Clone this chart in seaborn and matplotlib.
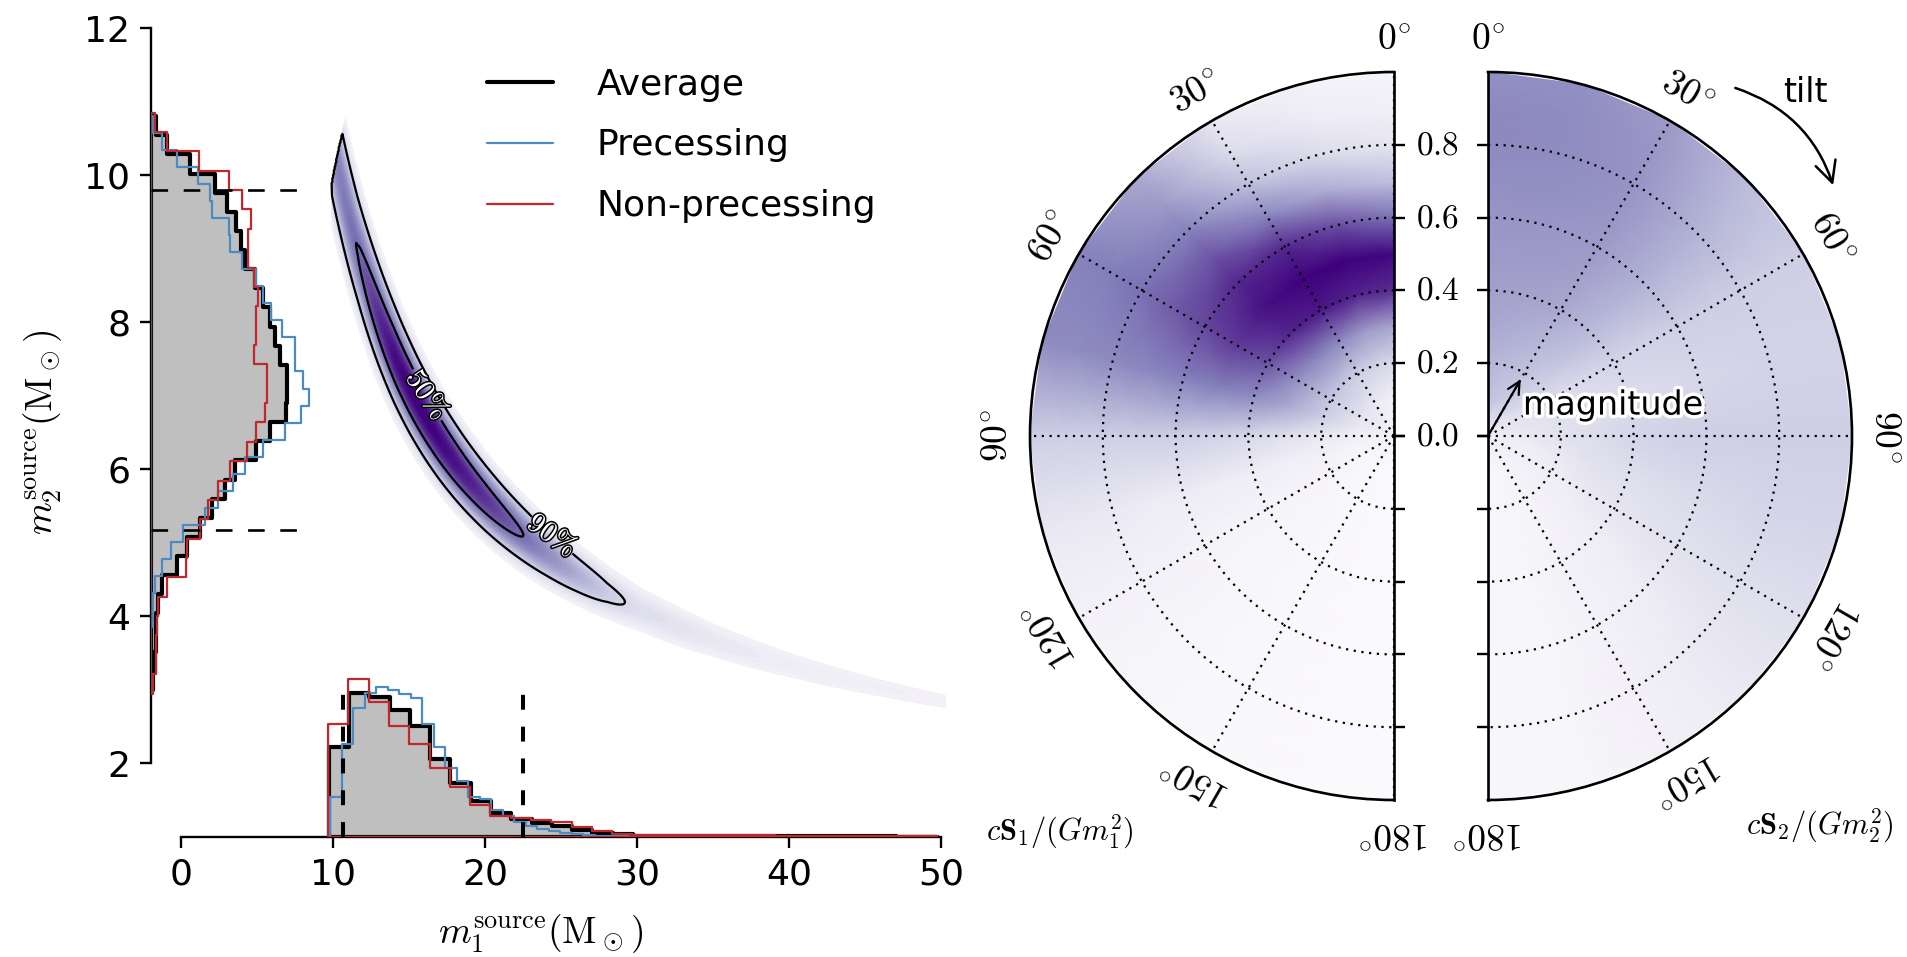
import numpy as np
import pandas as pd
import matplotlib
matplotlib.use("Agg")
import matplotlib.pyplot as plt
import matplotlib.patheffects as pe
from matplotlib.colors import PowerNorm
from matplotlib.lines import Line2D
import seaborn as sns

# ---------------- data ----------------
# Primary mass (source frame), 30 equal-width bins per series
m1_range_average = (9.70, 49.70)
m1_range_precessing = (9.78, 32.50)
m1_range_nonprecessing = (9.65, 49.70)
m1_average = [1.23, 1.96, 1.91, 1.73, 1.51, 1.06, 0.73, 0.49, 0.33, 0.24,
              0.19, 0.15, 0.09, 0.06, 0.035, 0.02, 0.017, 0.015, 0.013, 0.012,
              0.012, 0.011, 0.010, 0.009, 0.008, 0.008, 0.007, 0.007, 0.006, 0.006]
m1_precessing = [0.54, 1.26, 1.76, 1.96, 2.04, 2.00, 1.94, 1.89, 1.53, 1.23,
                 0.94, 0.76, 0.55, 0.51, 0.37, 0.28, 0.20, 0.15, 0.11, 0.08,
                 0.06, 0.04, 0.03, 0.02, 0.012, 0.008, 0.005, 0.004, 0.003, 0.002]
m1_nonprecessing = [1.54, 2.15, 1.83, 1.51, 1.26, 0.94, 0.68, 0.44, 0.29, 0.26,
                    0.23, 0.20, 0.13, 0.08, 0.045, 0.03, 0.025, 0.025, 0.025, 0.025,
                    0.03, 0.025, 0.02, 0.02, 0.018, 0.018, 0.015, 0.015, 0.015, 0.015]

# Secondary mass (source frame), bins listed from low to high mass
m2_range_average = (3.00, 10.80)
m2_range_precessing = (3.85, 10.81)
m2_range_nonprecessing = (2.95, 10.85)
m2_average = [0.1, 0.2, 0.3, 0.3, 0.45, 0.75, 1.7, 2.4, 3.2, 4.0,
              4.9, 5.5, 6.9, 7.8, 8.9, 8.95, 8.95, 8.5, 8.15, 7.8,
              7.35, 6.85, 6.2, 5.9, 5.6, 5.0, 4.2, 2.55, 1.05, 0.3]
m2_precessing = [0.1, 0.15, 0.25, 0.7, 1.3, 2.1, 3.55, 4.4, 5.4, 6.2,
                 7.4, 8.8, 9.9, 10.4, 10.0, 9.5, 9.5, 8.6, 7.9, 7.4,
                 6.9, 6.0, 5.2, 5.1, 4.0, 3.9, 3.1, 1.7, 0.7, 0.15]
m2_nonprecessing = [0.1, 0.3, 0.35, 0.4, 0.45, 1.05, 2.3, 2.4, 3.2, 3.75,
                    4.4, 5.2, 6.3, 6.9, 7.5, 7.6, 7.6, 6.8, 6.9, 6.9,
                    7.05, 6.8, 6.4, 6.4, 6.6, 6.0, 5.1, 3.15, 1.05, 0.25]

# 90% credible intervals of the averaged posterior
m1_interval = [10.6, 22.5]
m2_interval = [5.18, 9.80]

# Joint (m1, m2) posterior: relative density along the chirp-mass ridge,
# with a Gaussian spread in chirp mass across it (and m2 <= m1)
ridge_m1 = [9.9, 10.5, 11.0, 11.6, 12.0, 13.0, 14.0, 15.0, 16.0, 17.0, 18.0,
            20.0, 22.3, 24.0, 26.0, 28.0, 30.0, 35.0, 40.0, 45.0, 50.3]
ridge_density = [0.42, 0.45, 0.48, 0.52, 0.59, 0.78, 0.94, 1.00, 1.00, 0.97, 0.91,
                 0.75, 0.53, 0.38, 0.25, 0.145, 0.085, 0.05, 0.032, 0.024, 0.02]
chirp_mass_center = 8.87
chirp_mass_width = 0.20
credible_levels = [0.5, 0.9]
credible_labels = [r"$50\%$", r"$90\%$"]
credible_label_points = [(16.1, 7.0), (24.3, 5.07)]

# Spin disks: probability per (tilt, magnitude) node, normalised to 1
spin_tilt = [0, 15, 30, 45, 60, 75, 90, 105, 120, 135, 150, 165, 180]
spin_magnitude = [0.0, 0.1, 0.2, 0.3, 0.4, 0.5, 0.6, 0.7, 0.8, 0.9, 1.0]
spin1_density = [
    [0.08, 0.10, 0.25, 0.45, 0.85, 0.98, 0.66, 0.36, 0.18, 0.10, 0.06],
    [0.08, 0.12, 0.28, 0.50, 0.88, 1.00, 0.75, 0.43, 0.24, 0.14, 0.08],
    [0.08, 0.15, 0.30, 0.57, 0.92, 1.00, 0.87, 0.58, 0.36, 0.24, 0.16],
    [0.08, 0.18, 0.34, 0.58, 0.88, 0.95, 0.88, 0.74, 0.60, 0.50, 0.45],
    [0.08, 0.18, 0.33, 0.52, 0.74, 0.82, 0.78, 0.72, 0.66, 0.62, 0.60],
    [0.08, 0.16, 0.30, 0.44, 0.55, 0.60, 0.60, 0.58, 0.57, 0.56, 0.56],
    [0.08, 0.11, 0.16, 0.21, 0.26, 0.28, 0.30, 0.30, 0.30, 0.30, 0.30],
    [0.08, 0.07, 0.09, 0.10, 0.12, 0.13, 0.14, 0.14, 0.15, 0.16, 0.16],
    [0.08, 0.05, 0.06, 0.06, 0.07, 0.07, 0.07, 0.08, 0.08, 0.08, 0.08],
    [0.08, 0.04, 0.04, 0.05, 0.05, 0.05, 0.05, 0.05, 0.05, 0.05, 0.05],
    [0.08, 0.03, 0.03, 0.03, 0.03, 0.03, 0.03, 0.03, 0.03, 0.03, 0.03],
    [0.08, 0.02, 0.02, 0.02, 0.02, 0.02, 0.02, 0.02, 0.02, 0.02, 0.02],
    [0.08, 0.02, 0.02, 0.02, 0.02, 0.02, 0.02, 0.02, 0.02, 0.02, 0.02],
]
spin2_density = [
    [0.12, 0.35, 0.40, 0.45, 0.48, 0.50, 0.52, 0.55, 0.57, 0.57, 0.55],
    [0.12, 0.33, 0.38, 0.43, 0.47, 0.50, 0.52, 0.55, 0.56, 0.56, 0.55],
    [0.12, 0.30, 0.35, 0.40, 0.45, 0.48, 0.50, 0.52, 0.53, 0.52, 0.50],
    [0.12, 0.25, 0.30, 0.35, 0.38, 0.40, 0.42, 0.42, 0.42, 0.40, 0.38],
    [0.12, 0.20, 0.23, 0.25, 0.27, 0.28, 0.30, 0.30, 0.30, 0.30, 0.30],
    [0.12, 0.18, 0.20, 0.22, 0.24, 0.25, 0.26, 0.27, 0.28, 0.28, 0.28],
    [0.12, 0.15, 0.20, 0.24, 0.27, 0.29, 0.30, 0.30, 0.30, 0.30, 0.30],
    [0.12, 0.12, 0.16, 0.20, 0.22, 0.24, 0.25, 0.26, 0.27, 0.27, 0.27],
    [0.12, 0.10, 0.12, 0.15, 0.17, 0.19, 0.20, 0.21, 0.22, 0.22, 0.22],
    [0.12, 0.08, 0.09, 0.10, 0.11, 0.12, 0.13, 0.14, 0.15, 0.15, 0.15],
    [0.12, 0.06, 0.07, 0.07, 0.08, 0.08, 0.08, 0.09, 0.09, 0.09, 0.09],
    [0.12, 0.05, 0.05, 0.05, 0.05, 0.05, 0.05, 0.05, 0.05, 0.05, 0.05],
    [0.12, 0.05, 0.05, 0.05, 0.05, 0.05, 0.05, 0.05, 0.05, 0.05, 0.05],
]

series_names = ["Average", "Precessing", "Non-precessing"]
series_colors = ["black", "#4a8bc4", "#c1272d"]

# ---------------- style ----------------
sns.set_theme(style="ticks")
plt.rcParams.update({
    "font.family": ["DejaVu Sans"],
    "mathtext.fontset": "cm",
    "axes.edgecolor": "black",
    "xtick.color": "black",
    "ytick.color": "black",
    "text.color": "black",
    "axes.labelcolor": "black",
})

W, H = 1907, 957
fig = plt.figure(figsize=(W / 100, H / 100), dpi=100)


def fig_box(x0, y0, x1, y1):
    """Pixel box (top-left origin) to figure fraction [l, b, w, h]."""
    return [x0 / W, 1 - y1 / H, (x1 - x0) / W, (y1 - y0) / H]


main_box = fig_box(151, 28, 946, 837)
ax = fig.add_axes(main_box)
XLIM, YLIM = (-2, 50.3), (1, 12)

# ---------------- joint mass posterior ----------------
g1 = np.linspace(8.0, 50.3, 800)
g2 = np.linspace(1.0, 12.0, 700)
M1, M2 = np.meshgrid(g1, g2)
mc = (M1 * M2) ** 0.6 / (M1 + M2) ** 0.2
ridge = np.interp(M1, ridge_m1, ridge_density, left=0.0, right=ridge_density[-1])
dens = ridge * np.exp(-0.5 * ((mc - chirp_mass_center) / chirp_mass_width) ** 2)
dens[M2 > M1] = 0.0

flat = np.sort(dens.ravel())[::-1]
cum = np.cumsum(flat) / flat.sum()
hpd = [flat[np.searchsorted(cum, c)] for c in credible_levels]

gamma = 0.6
dmax = dens.max()
fill_levels = dmax * np.linspace(0.08, 1.0, 45) ** (1 / gamma)
ax.contourf(M1, M2, dens, levels=fill_levels, cmap="Purples",
            norm=PowerNorm(gamma, vmin=0, vmax=dmax), zorder=1)
for lvl, lab, pt in zip(hpd, credible_labels, credible_label_points):
    cs = ax.contour(M1, M2, dens, levels=[lvl], colors="black", linewidths=1.6, zorder=2)
    texts = ax.clabel(cs, fmt=lambda v, lab=lab: lab, manual=[pt], inline=True,
                      inline_spacing=4, fontsize=21)
    for t in texts:
        t.set_color("white")
        t.set_path_effects([pe.withStroke(linewidth=2.2, foreground="black")])

ax.set_xlim(*XLIM)
ax.set_ylim(*YLIM)
ax.set_xticks([0, 10, 20, 30, 40, 50])
ax.set_yticks([2, 4, 6, 8, 10, 12])
ax.spines[["top", "right"]].set_visible(False)
ax.spines["left"].set_bounds(2, 12)
ax.spines["bottom"].set_bounds(0, 50)
for s in ("left", "bottom"):
    ax.spines[s].set_linewidth(1.7)
ax.tick_params(labelsize=26, length=8, width=1.7, pad=7, direction="out")
ax.set_xlabel(r"$m_1^{\rm source}(\rm M_\odot)$", fontsize=27)
ax.set_ylabel(r"$m_2^{\rm source}(\rm M_\odot)$", fontsize=27)
ax.xaxis.set_label_coords(0.49, -0.093)
ax.yaxis.set_label_coords(-0.109, 0.5)

# ---------------- marginal histograms ----------------
ax_m1 = fig.add_axes(main_box, sharex=ax)
ax_m2 = fig.add_axes(main_box, sharey=ax)
for a in (ax_m1, ax_m2):
    a.patch.set_visible(False)


def step_hist(axh, values, value_range, color, lw, orient, face="none", z=2):
    n = len(values)
    edges = np.linspace(value_range[0], value_range[1], n + 1)
    df = pd.DataFrame({"value": 0.5 * (edges[:-1] + edges[1:]),
                       "weight": np.asarray(values, dtype=float)})
    kw = dict(data=df, weights="weight", bins=n, binrange=tuple(value_range),
              element="step", fill=True, color=color, facecolor=face,
              linewidth=lw, alpha=1, ax=axh, zorder=z)
    if orient == "x":
        sns.histplot(x="value", **kw)
    else:
        sns.histplot(y="value", **kw)


m1_sets = [(m1_average, m1_range_average), (m1_precessing, m1_range_precessing),
           (m1_nonprecessing, m1_range_nonprecessing)]
m2_sets = [(m2_average, m2_range_average), (m2_precessing, m2_range_precessing),
           (m2_nonprecessing, m2_range_nonprecessing)]
for i, ((v1, r1), (v2, r2)) in enumerate(zip(m1_sets, m2_sets)):
    face = "#bfbfbf" if i == 0 else "none"
    lw = 3.0 if i == 0 else 1.6
    step_hist(ax_m1, v1, r1, series_colors[i], lw, "x", face, z=2 + i)
    step_hist(ax_m2, v2, r2, series_colors[i], lw, "y", face, z=2 + i)

ax_m1.vlines(m1_interval, 0, 2.02, colors="black", linestyles=(0, (3.7, 4.2)),
             linewidth=2.9, zorder=6)
ax_m2.hlines(m2_interval, 0, 9.6, colors="black", linestyles=(0, (6.3, 5.9)),
             linewidth=1.9, zorder=6)
ax_m1.set_ylim(0, YLIM[1] - YLIM[0])
ax_m2.set_xlim(0, XLIM[1] - XLIM[0])
ax.set_xlim(*XLIM)
ax.set_ylim(*YLIM)
ax_m1.axis("off")
ax_m2.axis("off")

handles = [Line2D([], [], color=series_colors[0], lw=3.0),
           Line2D([], [], color=series_colors[1], lw=1.6),
           Line2D([], [], color=series_colors[2], lw=1.6)]
fig.legend(handles, series_names, loc="center left",
           bbox_to_anchor=(487 / W, 1 - 145.5 / H), frameon=False, fontsize=26,
           handlelength=1.83, handletextpad=1.2, labelspacing=0.74,
           borderpad=0, borderaxespad=0)

# ---------------- spin disks ----------------
T, R = np.meshgrid(np.deg2rad(spin_tilt), spin_magnitude, indexing="ij")


def spin_disk(box, values, direction, show_labels):
    axp = fig.add_axes(box, projection="polar")
    axp.set_theta_zero_location("N")
    axp.set_theta_direction(direction)
    axp.set_thetamin(0)
    axp.set_thetamax(180)
    axp.pcolormesh(T, R, np.array(values), shading="gouraud", cmap="Purples",
                   vmin=0, vmax=1, zorder=1)
    axp.set_ylim(0, 1)
    axp.set_axisbelow(False)
    axp.grid(True, color="black", linestyle=(0, (1, 2.5)), linewidth=1.6)
    ticks = [0, 30, 60, 90, 120, 150, 180]
    axp.set_xticks(np.deg2rad(ticks))
    axp.set_xticklabels([])
    axp.tick_params(axis="x", direction="out", length=7, width=1.6)
    for t in ticks:
        axp.text(np.deg2rad(t), 1.09, rf"${t}^{{\circ}}$", rotation=direction * t,
                 rotation_mode="anchor", ha="center", va="center", fontsize=27)
    rt = [0.0, 0.2, 0.4, 0.6, 0.8]
    axp.set_yticks(rt)
    axp.set_yticklabels([rf"${v:.1f}$" for v in rt] if show_labels else [""] * len(rt))
    axp.tick_params(axis="y", direction="out", length=8, width=1.7, labelsize=24,
                    pad=8, tick1On=True, tick2On=True, label1On=show_labels,
                    label2On=False)
    for name in ("polar", "start", "end"):
        axp.spines[name].set_linewidth(1.9)
        axp.spines[name].set_color("black")
    return axp


# The half disks sit centred in square axes boxes
ax_s1 = spin_disk(fig_box(848, 72, 1576, 800), spin1_density, 1, True)
ax_s2 = spin_disk(fig_box(1306, 72, 2034, 800), spin2_density, -1, False)

fig.text(1060 / W, 1 - 832 / H, r"$c\mathbf{S}_1/(Gm_1^2)$", fontsize=22,
         ha="center", va="center")
fig.text(1820 / W, 1 - 826 / H, r"$c\mathbf{S}_2/(Gm_2^2)$", fontsize=22,
         ha="center", va="center")

ax_s2.annotate("", xy=(np.deg2rad(30), 0.18), xytext=(0, 0),
               arrowprops=dict(arrowstyle="->", lw=1.6, color="black",
                               shrinkA=0, shrinkB=0, mutation_scale=22))
ax_s2.text(np.deg2rad(48.5), 0.128, "magnitude", ha="left", va="center", fontsize=24,
           path_effects=[pe.withStroke(linewidth=5, foreground="white")], zorder=5)
ax_s2.annotate("", xy=(np.deg2rad(54), 1.172), xytext=(np.deg2rad(35.4), 1.173),
               annotation_clip=False,
               arrowprops=dict(arrowstyle="->,head_length=0.6,head_width=0.3",
                               connectionstyle="arc3,rad=-0.25", lw=1.8,
                               color="black", shrinkA=0, shrinkB=0,
                               mutation_scale=25))
fig.text(1783 / W, 1 - 93 / H, "tilt", ha="left", va="center", fontsize=24)

fig.savefig("out.png", dpi=100)
